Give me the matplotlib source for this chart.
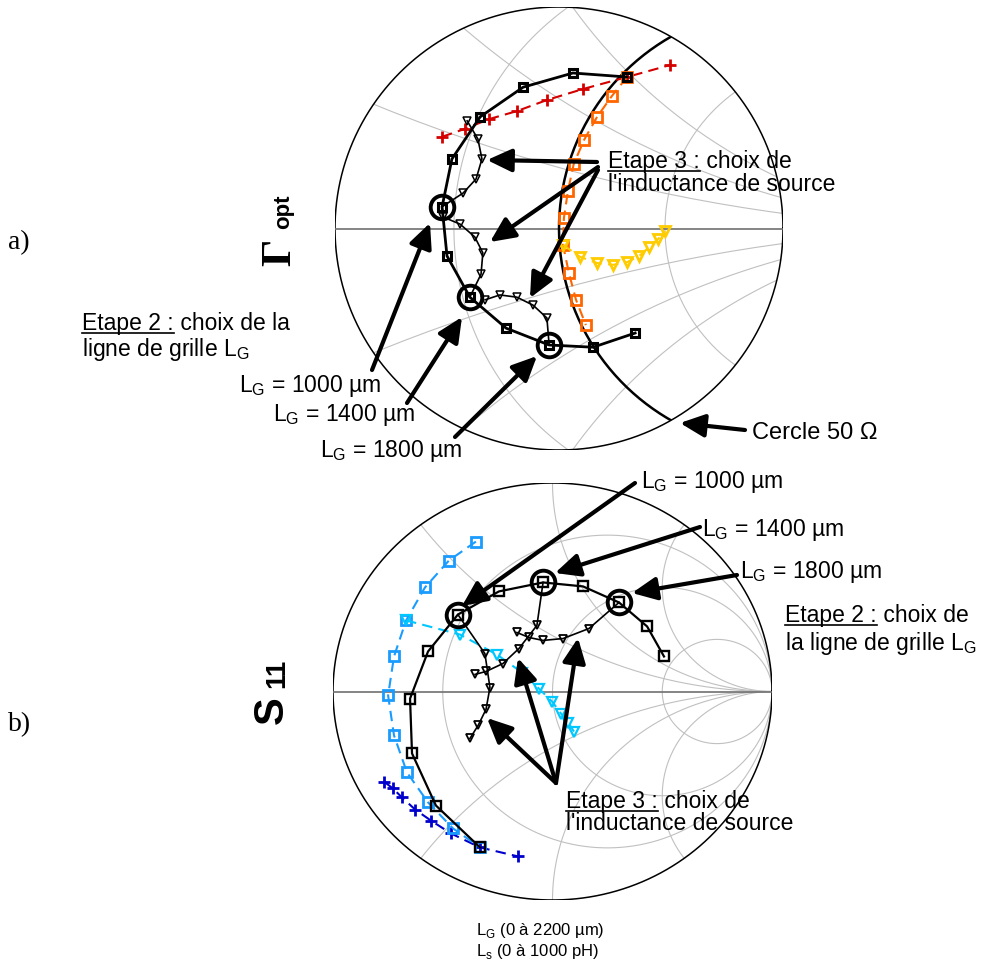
import numpy as np
import matplotlib
matplotlib.use("Agg")
import matplotlib.pyplot as plt
from matplotlib.patches import Circle

plt.rcParams['font.family'] = ['Liberation Sans', 'DejaVu Sans']
plt.rcParams['mathtext.fontset'] = 'custom'
plt.rcParams['mathtext.rm'] = 'Liberation Sans'

# ---- data (reflection coefficient, real / imag) ----
# a) Gamma_opt, zoomed chart |G| < 0.5
lg_top_re = [0.152, 0.031, -0.080, -0.176, -0.239, -0.261, -0.250, -0.199, -0.118, -0.022, 0.076, 0.170]
lg_top_im = [0.342, 0.351, 0.319, 0.252, 0.157, 0.049, -0.062, -0.155, -0.225, -0.263, -0.268, -0.236]
ls1000_top_re = [-0.261, -0.214, -0.185, -0.172, -0.181, -0.205]
ls1000_top_im = [0.049, 0.080, 0.112, 0.157, 0.202, 0.243]
ls1400_top_re = [-0.199, -0.174, -0.170, -0.188, -0.221, -0.259]
ls1400_top_im = [-0.155, -0.103, -0.055, -0.019, 0.010, 0.026]
ls1800_top_re = [-0.022, -0.027, -0.058, -0.094, -0.132, -0.165]
ls1800_top_im = [-0.263, -0.202, -0.173, -0.155, -0.150, -0.161]
red_re = [-0.261, -0.210, -0.156, -0.094, -0.027, 0.054, 0.152, 0.248]
red_im = [0.207, 0.225, 0.247, 0.265, 0.290, 0.315, 0.342, 0.369]
orange_re = [0.152, 0.118, 0.085, 0.056, 0.033, 0.020, 0.011, 0.009, 0.022, 0.038, 0.060]
orange_im = [0.342, 0.299, 0.252, 0.200, 0.146, 0.085, 0.024, -0.037, -0.100, -0.161, -0.218]
yellow_re = [0.009, 0.047, 0.085, 0.121, 0.152, 0.179, 0.201, 0.221, 0.237]
yellow_im = [-0.037, -0.064, -0.078, -0.082, -0.076, -0.062, -0.042, -0.024, -0.006]

# b) S11, full chart
lg_bot_re = [-0.330, -0.531, -0.640, -0.649, -0.567, -0.431, -0.244, -0.043, 0.139, 0.303, 0.431, 0.508]
lg_bot_im = [-0.748, -0.547, -0.297, -0.034, 0.192, 0.369, 0.480, 0.523, 0.504, 0.427, 0.312, 0.168]
ls1000_bot_re = [-0.431, -0.308, -0.285, -0.303, -0.339, -0.376]
ls1000_bot_im = [0.369, 0.182, 0.019, -0.086, -0.163, -0.225]
ls1400_bot_re = [-0.043, -0.071, -0.153, -0.226, -0.303, -0.353]
ls1400_bot_im = [0.523, 0.317, 0.206, 0.134, 0.096, 0.082]
ls1800_bot_re = [0.303, 0.166, 0.048, -0.043, -0.107, -0.162]
ls1800_bot_im = [0.427, 0.302, 0.254, 0.245, 0.259, 0.283]
lblue_re = [-0.349, -0.472, -0.581, -0.667, -0.722, -0.749, -0.722, -0.663, -0.567, -0.453, -0.330]
lblue_im = [0.719, 0.628, 0.499, 0.341, 0.168, -0.019, -0.211, -0.388, -0.532, -0.657, -0.748]
cyan_re = [-0.667, -0.421, -0.253, -0.139, -0.062, -0.002, 0.039, 0.071, 0.098]
cyan_im = [0.341, 0.273, 0.177, 0.091, 0.014, -0.048, -0.106, -0.149, -0.192]
dblue_re = [-0.768, -0.727, -0.686, -0.626, -0.554, -0.462, -0.330, -0.157]
dblue_im = [-0.432, -0.465, -0.508, -0.566, -0.619, -0.681, -0.748, -0.791]

circled = [5, 7, 9]   # LG = 1000, 1400, 1800 um

top_r = [0.62, 1.62]
top_x = [0.27, 0.54, 0.84]
bot_r = [1/3, 1, 3]
bot_x = [0.5, 1, 2]


def r_circle(r):
    t = np.linspace(0, 2*np.pi, 500)
    c, rad = r/(1+r), 1/(1+r)
    return c + rad*np.cos(t), rad*np.sin(t)


def x_arc(x):
    t = np.linspace(0, 2*np.pi, 800)
    return 1 + np.cos(t)/abs(x), 1/x + np.sin(t)/abs(x)


def smith(ax, R, rs, xs):
    ax.set_xlim(-R, R)
    ax.set_ylim(-R, R)
    ax.axis('off')
    clip = Circle((0, 0), R, transform=ax.transData)
    for r in rs:
        l, = ax.plot(*r_circle(r), color='#c0c0c0', lw=0.8)
        l.set_clip_path(clip)
    for x in xs:
        for s in (1, -1):
            l, = ax.plot(*x_arc(s*x), color='#c0c0c0', lw=0.8)
            l.set_clip_path(clip)
    t = np.linspace(0, 2*np.pi, 400)
    ax.plot(R*np.cos(t), R*np.sin(t), color='k', lw=1.1)
    ax.plot([-R, R], [0, 0], color='#707070', lw=1.2)
    return clip


fig = plt.figure(figsize=(9.81, 9.65), dpi=100)

# ---- a) ----
ax1 = fig.add_axes([335/981, 1-450/965, 448/981, 443/965])
clip = smith(ax1, 0.5, top_r, top_x)
l, = ax1.plot(*r_circle(1), color='k', lw=1.8)
l.set_clip_path(clip)
ax1.plot(red_re, red_im, color='#d40000', lw=1.5, ls=(0, (5, 3)),
         marker='+', ms=9, mew=2)
ax1.plot(orange_re, orange_im, color='#ff6600', lw=1.5, ls=(0, (5, 3)),
         marker='s', ms=6.5, mfc='none', mew=2)
ax1.plot(yellow_re, yellow_im, color='#ffcc00', lw=1.5, ls=(0, (5, 3)),
         marker='v', ms=7, mfc='none', mew=2)
for xr, xi in [(ls1000_top_re, ls1000_top_im), (ls1400_top_re, ls1400_top_im),
               (ls1800_top_re, ls1800_top_im)]:
    ax1.plot(xr, xi, color='k', lw=1.2, marker='v', ms=5.5, mfc='none', mew=1.1,
             markevery=list(range(1, len(xr))))
ax1.plot(lg_top_re, lg_top_im, color='k', lw=2, marker='s', ms=5.5, mfc='none', mew=2.2)
ax1.plot([lg_top_re[i] for i in circled], [lg_top_im[i] for i in circled], 'o',
         ms=17, mfc='none', mec='k', mew=2.8)

# ---- b) ----
ax2 = fig.add_axes([333/981, 1-900/965, 439/981, 417/965])
smith(ax2, 1.0, bot_r, bot_x)
ax2.plot(dblue_re, dblue_im, color='#0000cc', lw=1.5, ls=(0, (5, 3)),
         marker='+', ms=8, mew=2)
ax2.plot(lblue_re, lblue_im, color='#1a9cff', lw=1.5, ls=(0, (5, 3)),
         marker='s', ms=6.5, mfc='none', mew=2)
ax2.plot(cyan_re, cyan_im, color='#00c8ff', lw=1.5, ls=(0, (5, 3)),
         marker='v', ms=7, mfc='none', mew=1.6)
for xr, xi in [(ls1000_bot_re, ls1000_bot_im), (ls1400_bot_re, ls1400_bot_im),
               (ls1800_bot_re, ls1800_bot_im)]:
    ax2.plot(xr, xi, color='k', lw=1.2, marker='v', ms=6, mfc='none', mew=1.3,
             markevery=list(range(1, len(xr))))
ax2.plot(lg_bot_re, lg_bot_im, color='k', lw=1.6, marker='s', ms=7, mfc='none', mew=1.7)
ax2.plot([lg_bot_re[i] for i in circled], [lg_bot_im[i] for i in circled], 'o',
         ms=17, mfc='none', mec='k', mew=2.8)

# ---- annotations, in pixel coordinates ----
ov = fig.add_axes([0, 0, 1, 1], facecolor='none')
ov.set_xlim(0, 981)
ov.set_ylim(965, 0)
ov.axis('off')
renderer = fig.canvas.get_renderer()
FS = 16.5
LG = 'L$_\\mathregular{G}$'


def arrow(x0, y0, x1, y1):
    ov.annotate('', xy=(x1, y1), xytext=(x0, y0),
                arrowprops=dict(arrowstyle='-|>,head_length=0.75,head_width=0.35',
                                mutation_scale=20, lw=3, color='k',
                                shrinkA=0, shrinkB=0))


def underlined(x, y, head, tail, size=FS):
    t = ov.text(x, y, head, fontsize=size, va='baseline')
    bb = t.get_window_extent(renderer)
    inv = ov.transData.inverted()
    (a, _), (b, _) = inv.transform(bb.get_points())
    ov.plot([a, b], [y + 3, y + 3], color='k', lw=1.2)
    ov.text(b, y, tail, fontsize=size, va='baseline')


ov.text(8, 249, 'a)', fontsize=20, family='Liberation Serif', va='baseline')
ov.text(8, 731, 'b)', fontsize=20, family='Liberation Serif', va='baseline')
ov.text(299, 266, 'Γ', rotation=90, fontsize=31, family='Liberation Serif',
        fontweight='bold', ha='right', va='bottom')
ov.text(294, 229, 'opt', rotation=90, fontsize=16, fontweight='bold',
        ha='right', va='bottom')
ov.text(292, 724, 'S', rotation=90, fontsize=30, fontweight='bold',
        ha='right', va='bottom')
ov.text(290, 688, '11', rotation=90, fontsize=20, fontweight='bold',
        ha='right', va='bottom')

underlined(82, 330, 'Etape 2 :', ' choix de la')
ov.text(82, 356, 'ligne de grille ' + LG, fontsize=FS, va='baseline')
ov.text(239, 392, LG + ' = 1000 µm', fontsize=FS, va='baseline')
ov.text(273, 421, LG + ' = 1400 µm', fontsize=FS, va='baseline')
ov.text(320, 457, LG + ' = 1800 µm', fontsize=FS, va='baseline')
underlined(608, 168, 'Etape 3 :', ' choix de')
ov.text(608, 191, "l'inductance de source", fontsize=FS, va='baseline')
ov.text(752, 439, 'Cercle 50 Ω', fontsize=17, va='baseline')

ov.text(641, 488, LG + ' = 1000 µm', fontsize=FS, va='baseline')
ov.text(702, 536, LG + ' = 1400 µm', fontsize=FS, va='baseline')
ov.text(740, 578, LG + ' = 1800 µm', fontsize=FS, va='baseline')
underlined(785, 622, 'Etape 2 :', ' choix de')
ov.text(785, 650, 'la ligne de grille ' + LG, fontsize=FS, va='baseline')
underlined(566, 808, 'Etape 3 :', ' choix de')
ov.text(566, 830, "l'inductance de source", fontsize=FS, va='baseline')
ov.text(476, 935, LG + ' (0 à 2200 µm)', fontsize=12, va='baseline')
ov.text(476, 956, 'L$_\\mathregular{s}$ (0 à 1000 pH)', fontsize=12, va='baseline')

# arrows a)
arrow(597, 162, 487, 160)
arrow(598, 167, 490, 242)
arrow(598, 170, 530, 298)
arrow(372, 370, 430, 223)
arrow(407, 403, 462, 317)
arrow(455, 437, 537, 356)
arrow(745, 430, 680, 423)
# arrows b)
arrow(635, 483, 462, 606)
arrow(700, 527, 555, 573)
arrow(737, 575, 632, 593)
arrow(556, 783, 487, 718)
arrow(556, 783, 518, 658)
arrow(556, 783, 578, 638)

fig.savefig('out.png', dpi=100)
